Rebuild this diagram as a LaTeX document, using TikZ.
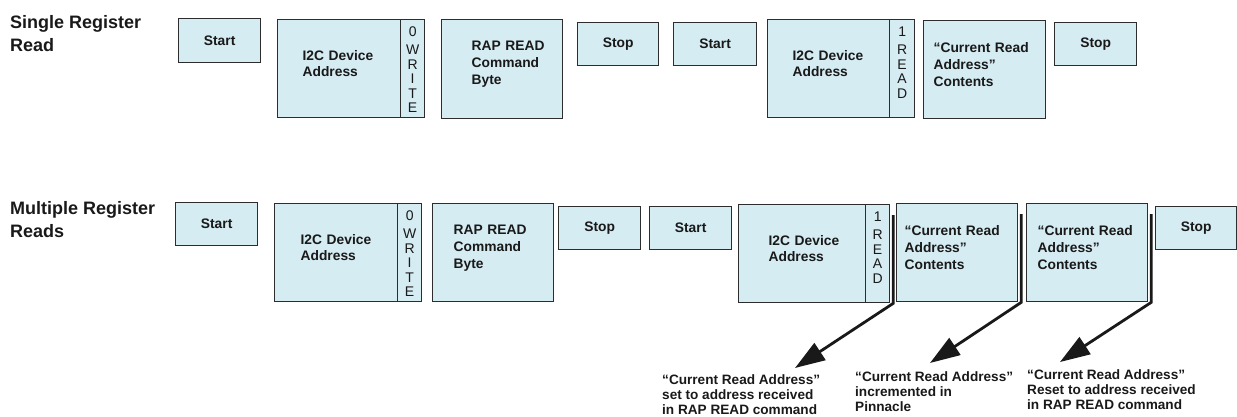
\documentclass[tikz,border=0pt]{standalone}
\usepackage{fontspec}
\setmainfont{Liberation Sans}
\usetikzlibrary{arrows.meta,positioning}

\definecolor{cellblue}{RGB}{213,236,242}
\definecolor{inkgray}{RGB}{45,45,45}

\begin{document}
\begin{tikzpicture}
    [
      x=1pt, y=-1pt,
      font=\fontsize{13.8}{16.8}\selectfont\bfseries,
      field/.style 2 args={draw=inkgray,fill=cellblue,line width=1.3pt,anchor=north west,
        inner sep=0pt,minimum width=#1,minimum height=#2,text=black!90},
      lefttext/.style={align=left,text width=#1,text height=0pt},
      bitcell/.style={field={24pt}{98pt}},
      bittext/.style={font=\fontsize{14}{14.5}\selectfont,align=center,inner sep=0pt,text=black!90},
      title/.style={anchor=north west,inner sep=0pt,align=left,font=\fontsize{18}{23}\selectfont\bfseries,text=black!90},
      note/.style={anchor=north west,inner sep=0pt,align=left,font=\fontsize{13.6}{15}\selectfont\bfseries,text=black!90},
      pointer/.style={draw=black!90,line width=2.8pt,line join=miter,-{Triangle[length=30pt,width=20pt]}},
    ]
    \useasboundingbox (0,0) rectangle (1237,417);

    % single register read
    \node (single) [title] at (10,15) {Single Register\\Read};
    \node (start-1) [field={82pt}{44pt}] at (178,18) {Start};
    \node (addr-1) [field={123pt}{98pt},lefttext=73pt] at (277,19) {\mbox{I2C Device}\\Address};
    \node (write-1) [bitcell] at (400,19) {};
    \node [bittext,below=8pt of write-1.north] {0\\[3.5pt]W\\R\\I\\T\\E};
    \node (cmd-1) [field={121pt}{99pt},lefttext=61pt] at (441,19) {\mbox{RAP READ}\\Command\\Byte};
    \node (stop-1) [field={81pt}{43pt}] at (577,22) {Stop};
    \node (start-2) [field={83pt}{43pt}] at (673,22) {Start};
    \node (addr-2) [field={122pt}{98pt},lefttext=72pt] at (767,19) {\mbox{I2C Device}\\Address};
    \node (read-2) [bitcell,minimum width=25pt] at (889,19) {};
    \node [bittext,below=8pt of read-2.north] {1\\[3.5pt]R\\E\\A\\D};
    \node (data-2) [field={122pt}{98pt},lefttext=102pt] at (923,20) {\mbox{“Current Read}\\Address”\\Contents};
    \node (stop-2) [field={82pt}{43pt}] at (1054,22) {Stop};

    % multiple register reads
    \node (multi) [title] at (10,201) {Multiple Register\\Reads};
    \node (start-3) [field={82pt}{43pt}] at (175,202) {Start};
    \node (addr-3) [field={123pt}{98pt},lefttext=71pt] at (274,203) {\mbox{I2C Device}\\Address};
    \node (write-3) [bitcell] at (397,203) {};
    \node [bittext,below=8pt of write-3.north] {0\\[3.5pt]W\\R\\I\\T\\E};
    \node (cmd-3) [field={121pt}{98pt},lefttext=79pt] at (432,203) {\mbox{RAP READ}\\Command\\Byte};
    \node (stop-3) [field={82pt}{43pt}] at (558,206) {Stop};
    \node (start-4) [field={82pt}{43pt}] at (649,206) {Start};
    \node (addr-4) [field={127pt}{98pt},lefttext=67pt] at (738,204) {\mbox{I2C Device}\\Address};
    \node (read-4) [bitcell] at (865,204) {};
    \node [bittext,below=8pt of read-4.north] {1\\[3.5pt]R\\E\\A\\D};
    \node (data-4) [field={121pt}{98pt},lefttext=105pt] at (896,203) {\mbox{“Current Read}\\Address”\\Contents};
    \node (data-5) [field={121pt}{98pt},lefttext=99pt] at (1026,203) {\mbox{“Current Read}\\Address”\\Contents};
    \node (stop-4) [field={81pt}{43pt}] at (1155,206) {Stop};

    \node (note-a) [note] at (662,374) {“Current Read Address”\\set to address received\\in RAP READ command};
    \node (note-b) [note] at (855,371) {“Current Read Address”\\incremented in\\Pinnacle};
    \node (note-c) [note] at (1027,369) {“Current Read Address”\\Reset to address received\\in RAP READ command};

    \coordinate (tip-a) at (795,368);
    \coordinate (tip-b) at (930,363);
    \coordinate (tip-c) at (1060,362);

    \draw [pointer] ([xshift=3pt,yshift=-11pt]read-4.north east) -- ([xshift=3pt]read-4.south east) -- (tip-a);
    \draw [pointer] ([xshift=3pt,yshift=-11pt]data-4.north east) -- ([xshift=3pt]data-4.south east) -- (tip-b);
    \draw [pointer] ([xshift=3pt,yshift=-11pt]data-5.north east) -- ([xshift=3pt]data-5.south east) -- (tip-c);

\end{tikzpicture}
\end{document}
